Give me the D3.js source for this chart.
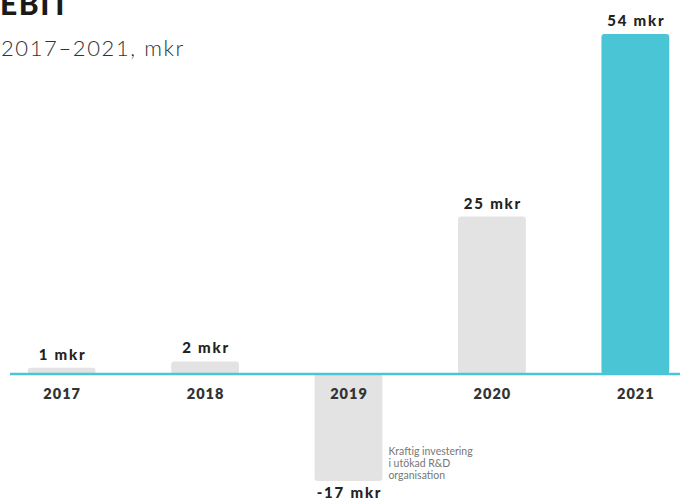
<!DOCTYPE html>
<html><head><meta charset="utf-8">
<script src="https://cdn.jsdelivr.net/npm/d3@7"></script>
<style>body{margin:0;background:#fff}svg{display:block;font-family:Lato,sans-serif}</style>
</head><body><svg id="c" width="680" height="504"></svg>
<script>
const years = ["2017","2018","2019","2020","2021"];
const values = [1, 2, -17, 25, 54];
const labels = ["1 mkr","2 mkr","-17 mkr","25 mkr","54 mkr"];
const highlight = [false,false,false,false,true];
const noteLines = ["Kraftig investering","i utökad R&D","organisation"];

const svg = d3.select("#c");
const x = d3.scaleBand().domain(years).range([-11, 708]).paddingInner(0.527).paddingOuter(0.27);
const y = d3.scaleLinear().domain([-17, 54]).range([481, 34]);

svg.append("text").attr("x",0).attr("y",15).attr("font-size",30).attr("font-weight",900).attr("letter-spacing",1.5).attr("fill","#1a1a1a").text("EBIT");
svg.append("text").attr("x",1).attr("y",56).attr("font-size",22).attr("font-weight",300).attr("letter-spacing",1.6).attr("fill","#333").text("2017–2021, mkr");

svg.selectAll("path.bar").data(years).join("path").attr("class","bar")
  .attr("d",(d,i)=>{
    const x0=x(d), w=x.bandwidth(), v=values[i];
    const y0=Math.min(y(v),y(0)), h=Math.abs(y(v)-y(0)), r=Math.min(3,h/2);
    return `M${x0},${y0+r}a${r},${r} 0 0 1 ${r},${-r}h${w-2*r}a${r},${r} 0 0 1 ${r},${r}v${h-2*r}a${r},${r} 0 0 1 ${-r},${r}h${-(w-2*r)}a${r},${r} 0 0 1 ${-r},${-r}z`;
  })
  .attr("fill",(d,i)=>highlight[i]?"#4ac5d6":"#e3e3e3");

svg.append("line").attr("x1",10).attr("x2",680).attr("y1",y(0)).attr("y2",y(0)).attr("stroke","#4ac5d6").attr("stroke-width",2.5);

svg.selectAll("text.val").data(years).join("text").attr("class","val")
  .attr("x",d=>x(d)+x.bandwidth()/2+1)
  .attr("y",(d,i)=>values[i]>=0? y(values[i])-8 : y(values[i])+17)
  .attr("text-anchor","middle").attr("font-size",15).attr("font-weight",900).attr("letter-spacing",1.8).attr("fill","#222")
  .text((d,i)=>labels[i]);

svg.selectAll("text.cat").data(years).join("text").attr("class","cat")
  .attr("x",d=>x(d)+x.bandwidth()/2+0.5)
  .attr("y",y(0)+25)
  .attr("text-anchor","middle").attr("font-size",14.5).attr("font-weight",800).attr("letter-spacing",1).attr("fill","#333")
  .text(d=>d);

svg.append("g").selectAll("text").data(noteLines).join("text")
  .attr("x",x("2019")+x.bandwidth()+6).attr("y",(d,i)=>455+i*11.8)
  .attr("font-size",10.5).attr("fill","#777").text(d=>d);
</script></body></html>
